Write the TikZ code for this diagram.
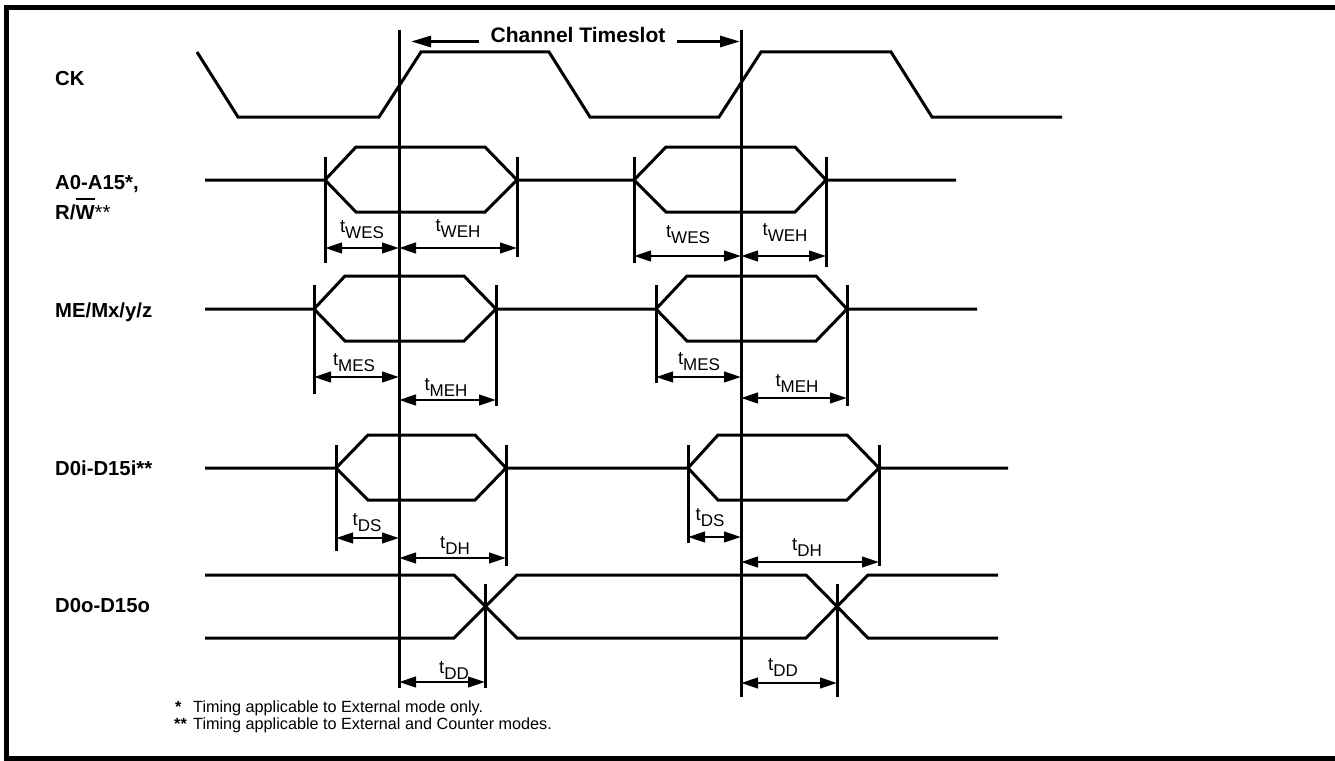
\documentclass[tikz,border=0pt]{standalone}
\usepackage{fontspec}
\setmainfont{Liberation Sans}
\usetikzlibrary{arrows.meta}
\newcommand{\tsub}[1]{{\fontsize{18.5pt}{20pt}\selectfont t\raisebox{-6pt}{\fontsize{17pt}{18pt}\selectfont #1}}}
\newcommand{\barW}{{\setbox0\hbox{W}\rlap{\raisebox{\dimexpr\ht0+5pt\relax}{\rule{\wd0}{1.6pt}}}\box0}}
\begin{document}
\begin{tikzpicture}[x=1pt,y=-1pt,
  wave/.style={line width=3pt},
  tickln/.style={line width=3pt},
  refln/.style={line width=3pt},
  dim/.style={line width=2.6pt,{Triangle[length=17pt,width=10.5pt]}-{Triangle[length=17pt,width=10.5pt]}},
  slot/.style={line width=3pt,-{Triangle[length=20pt,width=11pt]}},
  sig/.style={font=\fontsize{20.3pt}{22pt}\selectfont\bfseries, anchor=base west, inner sep=0pt},
  tlab/.style={anchor=base, inner sep=0pt},
  foot/.style={font=\fontsize{16.2pt}{18pt}\selectfont, anchor=base west, inner sep=0pt}]
\useasboundingbox (0,0) rectangle (1335,760);
\clip (0,0) rectangle (1335,760);
% frame
\draw[line width=5.5pt] (6.5,7.5) rectangle (1345,758.5);

% signal names
\node[sig] (lck) at (55,85) {CK};
\node[sig] (la) at (55,189) {A0-A15*,};
\node[sig] (lrw) at (55,219) {R/\barW\textmd{**}};
\node[sig] (lme) at (55,317) {ME/Mx/y/z};
\node[sig] (ldi) at (55,475) {D0i-D15i**};
\node[sig] (ldo) at (55,612) {D0o-D15o};

% reference lines
\coordinate (r1t) at (399,30); \coordinate (r1b) at (399,688);
\coordinate (r2t) at (741,30); \coordinate (r2b) at (741,697);
\draw[refln] (r1t) -- (r1b);
\draw[refln] (r2t) -- (r2b);

% channel timeslot
\node[font=\fontsize{21pt}{22pt}\selectfont\bfseries, anchor=base, inner sep=0pt] (ct) at (578,43) {Channel Timeslot};
\coordinate (cl) at (479,41.5); \coordinate (clt) at (411,41.5);
\coordinate (cr) at (677,41.5); \coordinate (crt) at (740,41.5);
\draw[slot] (cl) -- (clt);
\draw[slot] (cr) -- (crt);

% CK
\draw[wave] (197,52) -- (238,117) -- (379,117) -- (421,52) -- (549,52) -- (590,117)
  -- (719,117) -- (761,52) -- (891,52) -- (932,117) -- (1062,117);

% A0-A15
\draw[wave] (205,180) -- (325,180) -- (356,147) -- (485,147) -- (517,180) -- (634,180)
  -- (666,147) -- (795,147) -- (826,180) -- (956,180);
\draw[wave] (325,180) -- (356,212) -- (485,212) -- (517,180);
\draw[wave] (634,180) -- (666,212) -- (795,212) -- (826,180);
\draw[tickln] (325,157) -- (325,263);
\draw[tickln] (517,157) -- (517,257);
\draw[tickln] (634,157) -- (634,263);
\draw[tickln] (826,157) -- (826,267);
\draw[dim] (325,248) -- (399,248);
\draw[dim] (399,248) -- (517,248);
\draw[dim] (634,256) -- (741,256);
\draw[dim] (741,256) -- (826,256);
\node[tlab] (wes1) at (362,232) {\tsub{WES}};
\node[tlab] (weh1) at (458,231) {\tsub{WEH}};
\node[tlab] (wes2) at (688,237) {\tsub{WES}};
\node[tlab] (weh2) at (785,235) {\tsub{WEH}};

% ME
\draw[wave] (205,309) -- (314,309) -- (345,276) -- (464,276) -- (496,309) -- (656,309)
  -- (687,276) -- (816,276) -- (847,309) -- (977,309);
\draw[wave] (314,309) -- (345,341) -- (464,341) -- (496,309);
\draw[wave] (656,309) -- (687,341) -- (816,341) -- (847,309);
\draw[tickln] (314,285) -- (314,394);
\draw[tickln] (496,285) -- (496,406);
\draw[tickln] (656,285) -- (656,383);
\draw[tickln] (847,285) -- (847,406);
\draw[dim] (314,377) -- (399,377);
\draw[dim] (399,400) -- (496,400);
\draw[dim] (656,377) -- (741,377);
\draw[dim] (741,398) -- (847,398);
\node[tlab] (mes1) at (354,365) {\tsub{MES}};
\node[tlab] (meh1) at (446,390) {\tsub{MEH}};
\node[tlab] (mes2) at (699,364) {\tsub{MES}};
\node[tlab] (meh2) at (797,386) {\tsub{MEH}};

% D0i
\draw[wave] (205,468) -- (336,468) -- (368,435) -- (475,435) -- (506,468) -- (688,468)
  -- (718,435) -- (847,435) -- (879,468) -- (1008,468);
\draw[wave] (336,468) -- (368,500) -- (475,500) -- (506,468);
\draw[wave] (688,468) -- (718,500) -- (847,500) -- (879,468);
\draw[tickln] (336,445) -- (336,551);
\draw[tickln] (506,445) -- (506,566);
\draw[tickln] (688,445) -- (688,543);
\draw[tickln] (879,445) -- (879,566);
\draw[dim] (336,538) -- (399,538);
\draw[dim] (399,558) -- (506,558);
\draw[dim] (688,537) -- (741,537);
\draw[dim] (741,562) -- (879,562);
\node[tlab] (ds1) at (367,525) {\tsub{DS}};
\node[tlab] (dh1) at (455,548) {\tsub{DH}};
\node[tlab] (ds2) at (710,520) {\tsub{DS}};
\node[tlab] (dh2) at (807,550) {\tsub{DH}};

% D0o
\draw[wave] (205,575) -- (454,575) -- (517,638) -- (806,638) -- (868,575) -- (998,575);
\draw[wave] (205,638) -- (454,638) -- (517,575) -- (806,575) -- (868,638) -- (998,638);
\draw[tickln] (485,584) -- (485,688);
\draw[tickln] (837,584) -- (837,697);
\draw[dim] (399,682) -- (485,682);
\draw[dim] (741,683) -- (837,683);
\node[tlab] (dd1) at (454,673) {\tsub{DD}};
\node[tlab] (dd2) at (783,670) {\tsub{DD}};

% footnotes
\node[foot] (s1) at (175,712) {\textbf{*}};
\node[foot] (f1) at (193,712) {Timing applicable to External mode only.};
\node[foot] (s2) at (174,729) {\textbf{**}};
\node[foot] (f2) at (193,729) {Timing applicable to External and Counter modes.};
\end{tikzpicture}
\end{document}
